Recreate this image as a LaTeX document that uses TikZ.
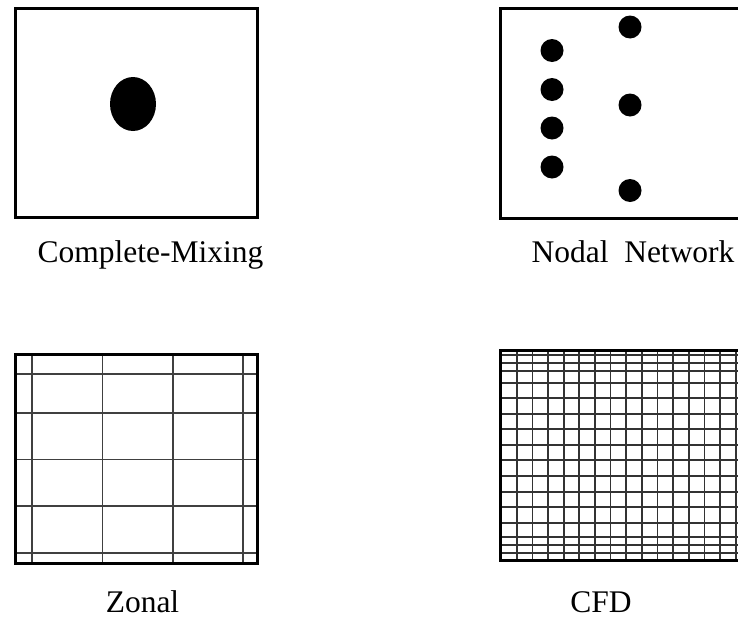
\documentclass[tikz,border=0pt]{standalone}
\usepackage{fontspec}
\setmainfont{Liberation Serif}
\begin{document}
\begin{tikzpicture}[x=1pt,y=-1pt,
  frame/.style={draw=black,line width=3pt},
  zoneline/.style={draw=black!75,line width=1.4pt},
  cellline/.style={draw=black!80,line width=1.7pt},
  blob/.style={circle,fill=black,inner sep=0pt,minimum size=23pt},
  caption/.style={anchor=base,inner sep=0pt,font=\fontsize{31.5}{36}\selectfont}]
\useasboundingbox (0,0) rectangle (738,624);
\clip (0,0) rectangle (738,624);

% --- Complete-Mixing: one well-mixed volume ---
\draw[frame] (15.5,8) rectangle (257.5,217);
\fill (133,104) ellipse [x radius=23, y radius=27];
\node[caption] (cm) at (150.5,262) {Complete-Mixing};

% --- Nodal network: discrete nodes ---
\draw[frame] (500,8.5) rectangle (760,218);
\foreach \y [count=\i] in {50.5,89.5,128,167}
  \node[blob] (nl\i) at (552,\y) {};
\foreach \y [count=\i] in {27,105,190.5}
  \node[blob] (nr\i) at (630,\y) {};
\node[caption] (nn) at (633,262) {Nodal\ \ Network};

% --- Zonal: coarse grid of zones ---
\foreach \x in {32,102.5,173,243}
  \draw[zoneline] (\x,354) -- (\x,563);
\foreach \y in {374,413,459.5,506,553}
  \draw[zoneline] (15.5,\y) -- (257,\y);
\draw[frame] (15.5,354) rectangle (257,563);
\node[caption] (zn) at (142.5,612) {Zonal};

% --- CFD: fine computational mesh ---
\foreach \k in {0,...,14}
  \draw[cellline] ({516.7+15.65*\k},350) -- ({516.7+15.65*\k},560);
\foreach \y in {355,362.7,371,382.7,398.3,414,429.3,445,460,475.7,491.7,506.7,522.7,537.3,545,552.7}
  \draw[cellline] (500.5,\y) -- (760,\y);
\draw[frame] (500.5,350) rectangle (760,560);
\node[caption] (cfd) at (601,612) {CFD};
\end{tikzpicture}
\end{document}
